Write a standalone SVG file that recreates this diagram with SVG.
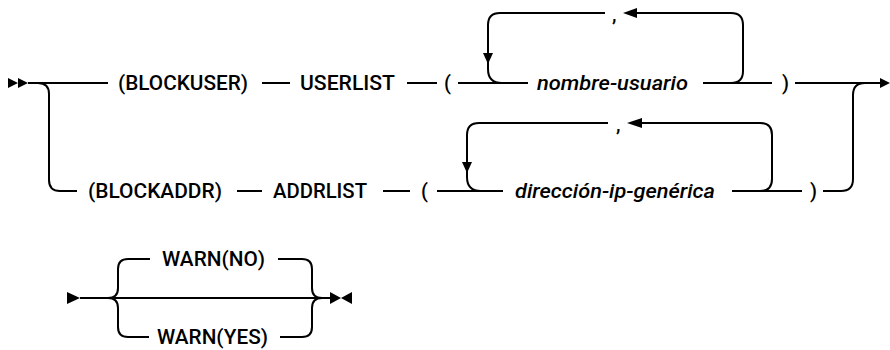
<svg xmlns="http://www.w3.org/2000/svg" width="890" height="350" viewBox="0 0 890 350">
<style>
.ln{fill:none;stroke:#000;stroke-width:2}
.ah{fill:#000;stroke:none}
text{font-family:Roboto,"Liberation Sans",sans-serif;font-size:20px;font-weight:500;fill:#000}
.it{font-style:italic}
</style>
<rect width="890" height="350" fill="#fff"/>
<g id="connectors">
<path class="ln" d="M28,83 H108"/>
<path class="ln" d="M38,83 Q49,83 49,94 V180 Q49,191 60,191 H77"/>
<path class="ln" d="M262,83 H290"/>
<path class="ln" d="M407,83 H437"/>
<path class="ln" d="M458,83 H528"/>
<path class="ln" d="M605,13 H500 Q488,13 488,25 V69 Q488,83 502,83"/>
<path class="ln" d="M637,13 H731 Q743,13 743,25 V71 Q743,83 731,83"/>
<path class="ln" d="M703,83 H772"/>
<path class="ln" d="M795,83 H881"/>
<path class="ln" d="M823,191 H841 Q853,191 853,179 V95 Q853,83 865,83"/>
<path class="ln" d="M237,191 H262"/>
<path class="ln" d="M383,191 H410"/>
<path class="ln" d="M437,191 H503"/>
<path class="ln" d="M608,123 H479 Q467,123 467,135 V177 Q467,191 481,191"/>
<path class="ln" d="M642,123 H760 Q772,123 772,135 V179 Q772,191 760,191"/>
<path class="ln" d="M732,191 H802"/>
<path class="ln" d="M80,298 H331"/>
<path class="ln" d="M108,298 Q118,298 118,288 V269 Q118,259 128,259 H150"/>
<path class="ln" d="M108,298 Q118,298 118,308 V327 Q118,337 128,337 H149"/>
<path class="ln" d="M278,259 H302 Q312,259 312,269 V288 Q312,298 322,298"/>
<path class="ln" d="M280,337 H302 Q312,337 312,327 V308 Q312,298 322,298"/>
<polygon class="ah" points="8,78 18,83 8,88"/>
<polygon class="ah" points="18,78 28,83 18,88"/>
<polygon class="ah" points="483,53 493,53 488,64"/>
<polygon class="ah" points="623,13 637,8 637,18"/>
<polygon class="ah" points="880,78 890,83 880,88"/>
<polygon class="ah" points="462,162 472,162 467,173"/>
<polygon class="ah" points="627,123 642,118 642,128"/>
<polygon class="ah" points="67,292 80,298 67,304"/>
<polygon class="ah" points="330,292 341,298 330,304"/>
<polygon class="ah" points="352,292 341,298 352,304"/>
</g>
<g id="blockuser"><text x="118" y="90" textLength="130" lengthAdjust="spacingAndGlyphs">(BLOCKUSER)</text></g>
<g id="userlist"><text x="300" y="90" textLength="95" lengthAdjust="spacingAndGlyphs">USERLIST</text></g>
<g id="lparen1"><text x="444" y="90">(</text></g>
<g id="nombre-usuario"><text class="it" x="537" y="90" textLength="151" lengthAdjust="spacingAndGlyphs">nombre-usuario</text></g>
<g id="comma1"><text x="612" y="21">,</text></g>
<g id="rparen1"><text x="782" y="90">)</text></g>
<g id="blockaddr"><text x="88" y="198" textLength="134" lengthAdjust="spacingAndGlyphs">(BLOCKADDR)</text></g>
<g id="addrlist"><text x="273" y="198" textLength="94" lengthAdjust="spacingAndGlyphs">ADDRLIST</text></g>
<g id="lparen2"><text x="421" y="198">(</text></g>
<g id="direccion"><text class="it" x="515" y="198" textLength="200" lengthAdjust="spacingAndGlyphs">dirección-ip-genérica</text></g>
<g id="comma2"><text x="616" y="131">,</text></g>
<g id="rparen2"><text x="810" y="198">)</text></g>
<g id="warnno"><text x="162" y="266" textLength="103" lengthAdjust="spacingAndGlyphs">WARN(NO)</text></g>
<g id="warnyes"><text x="157" y="344" textLength="111" lengthAdjust="spacingAndGlyphs">WARN(YES)</text></g>
</svg>
